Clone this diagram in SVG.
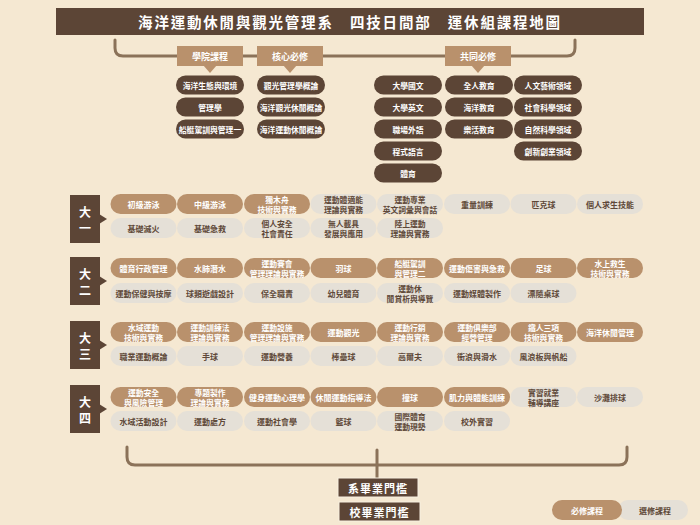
<svg xmlns="http://www.w3.org/2000/svg" width="700" height="525" viewBox="0 0 700 525">
<style>
text{font-family:"Noto Sans CJK TC","Noto Sans CJK SC",sans-serif;font-weight:bold;text-anchor:middle;dominant-baseline:central}
.bg{fill:#f5e8d2}
.dark{fill:#5c4536}
.req{fill:#b9916c}
.ele{fill:#e5e0d7}
.tw{fill:#ffffff;font-size:8px}
.td{fill:#5e4838;font-size:8px}
.tw2{fill:#ffffff;font-size:7.8px}
.td2{fill:#5e4838;font-size:7.8px}
.tu{fill:#ffffff;font-size:7.8px}
.lab{fill:#ffffff;font-size:9px}
.yr{fill:#ffffff;font-size:12px}
.br{fill:none;stroke:#8b7259;stroke-width:3;stroke-linecap:round}
.gate{fill:#5c4536;stroke:#f8efe0;stroke-width:1}
.gt{fill:#ffffff;font-size:11px;letter-spacing:1px}
</style>
<rect class="bg" x="0" y="0" width="700" height="525"/>

<g id="title">
<rect class="dark" x="56" y="8" width="588" height="27"/>
<text x="350" y="21.5" style="fill:#fff;font-size:14.5px;letter-spacing:1.8px">海洋運動休閒與觀光管理系　四技日間部　運休組課程地圖</text>
</g>

<g id="connectors">
<path class="br" d="M115,40 V48 Q115,56 123,56 H567 Q575,56 575,48 V40"/>
<path class="br" d="M127,447 V457 Q127,465 135,465 H619 Q627,465 627,457 V447"/>
<path class="br" d="M377,450 V478" stroke-linecap="butt"/>
</g>

<g id="cat-college">
<rect class="req" x="177" y="46" width="66" height="20"/>
<polygon class="req" points="203,65 217,65 210,73"/>
<text class="lab" x="210" y="56">學院課程</text>
</g>
<g id="cat-core">
<rect class="req" x="257" y="46" width="66" height="20"/>
<polygon class="req" points="283,65 297,65 290,73"/>
<text class="lab" x="290" y="56">核心必修</text>
</g>
<g id="cat-common">
<rect class="req" x="445" y="46" width="66" height="20"/>
<polygon class="req" points="471,65 485,65 478,73"/>
<text class="lab" x="478" y="56">共同必修</text>
</g>

<g id="upper-courses">
<g id="c-college-1"><rect class="dark" x="176" y="75.5" width="68" height="19" rx="9.5"/><text class="tu" x="210" y="85">海洋生態與環境</text></g>
<g id="c-college-2"><rect class="dark" x="176" y="97.5" width="68" height="19" rx="9.5"/><text class="tu" x="210" y="107">管理學</text></g>
<g id="c-college-3"><rect class="dark" x="176" y="119.5" width="68" height="19" rx="9.5"/><text class="tu" x="210" y="129">船艇駕訓與管理一</text></g>
<g id="c-core-1"><rect class="dark" x="257" y="75.5" width="68" height="19" rx="9.5"/><text class="tu" x="291" y="85">觀光管理學概論</text></g>
<g id="c-core-2"><rect class="dark" x="257" y="97.5" width="68" height="19" rx="9.5"/><text class="tu" x="291" y="107">海洋觀光休閒概論</text></g>
<g id="c-core-3"><rect class="dark" x="257" y="119.5" width="68" height="19" rx="9.5"/><text class="tu" x="291" y="129">海洋運動休閒概論</text></g>
<g id="c-common-1"><rect class="dark" x="374" y="75.5" width="68" height="19" rx="9.5"/><text class="tu" x="408" y="85">大學國文</text></g>
<g id="c-common-2"><rect class="dark" x="374" y="97.5" width="68" height="19" rx="9.5"/><text class="tu" x="408" y="107">大學英文</text></g>
<g id="c-common-3"><rect class="dark" x="374" y="119.5" width="68" height="19" rx="9.5"/><text class="tu" x="408" y="129">職場外語</text></g>
<g id="c-common-4"><rect class="dark" x="374" y="141.5" width="68" height="19" rx="9.5"/><text class="tu" x="408" y="151">程式語言</text></g>
<g id="c-common-5"><rect class="dark" x="374" y="163.5" width="68" height="19" rx="9.5"/><text class="tu" x="408" y="173">體育</text></g>
<g id="c-common-6"><rect class="dark" x="445" y="75.5" width="68" height="19" rx="9.5"/><text class="tu" x="479" y="85">全人教育</text></g>
<g id="c-common-7"><rect class="dark" x="445" y="97.5" width="68" height="19" rx="9.5"/><text class="tu" x="479" y="107">海洋教育</text></g>
<g id="c-common-8"><rect class="dark" x="445" y="119.5" width="68" height="19" rx="9.5"/><text class="tu" x="479" y="129">樂活教育</text></g>
<g id="c-common-9"><rect class="dark" x="514" y="75.5" width="68" height="19" rx="9.5"/><text class="tu" x="548" y="85">人文藝術領域</text></g>
<g id="c-common-10"><rect class="dark" x="514" y="97.5" width="68" height="19" rx="9.5"/><text class="tu" x="548" y="107">社會科學領域</text></g>
<g id="c-common-11"><rect class="dark" x="514" y="119.5" width="68" height="19" rx="9.5"/><text class="tu" x="548" y="129">自然科學領域</text></g>
<g id="c-common-12"><rect class="dark" x="514" y="141.5" width="68" height="19" rx="9.5"/><text class="tu" x="548" y="151">創新創業領域</text></g>
</g>

<!-- Year 1 -->
<g id="year1">
<rect class="dark" x="70" y="195" width="30" height="48"/>
<polygon class="dark" points="99,214 107,219 99,224"/>
<text class="yr" x="85" y="211">大</text><text class="yr" x="85" y="227">一</text>
</g>
<g id="y1-courses">
<g><rect class="req" x="110.5" y="194" width="66" height="20" rx="10"/><text class="tw" x="143.5" y="204">初級游泳</text></g>
<g><rect class="req" x="177" y="194" width="66" height="20" rx="10"/><text class="tw" x="210" y="204">中級游泳</text></g>
<g><rect class="req" x="244" y="194" width="66" height="20" rx="10"/><text class="tw2" x="277" y="199">獨木舟</text><text class="tw2" x="277" y="209.5">技術與實務</text></g>
<g><rect class="ele" x="310.5" y="194" width="66" height="20" rx="10"/><text class="td2" x="343.5" y="199">運動體適能</text><text class="td2" x="343.5" y="209.5">理論與實務</text></g>
<g><rect class="ele" x="377" y="194" width="66" height="20" rx="10"/><text class="td2" x="410" y="199">運動專業</text><text class="td2" x="410" y="209.5">英文詞彙與會話</text></g>
<g><rect class="ele" x="444" y="194" width="66" height="20" rx="10"/><text class="td" x="477" y="204">重量訓練</text></g>
<g><rect class="ele" x="510.5" y="194" width="66" height="20" rx="10"/><text class="td" x="543.5" y="204">匹克球</text></g>
<g><rect class="ele" x="577" y="194" width="66" height="20" rx="10"/><text class="td" x="610" y="204">個人求生技能</text></g>
<g><rect class="ele" x="110.5" y="218" width="66" height="20" rx="10"/><text class="td" x="143.5" y="228">基礎滅火</text></g>
<g><rect class="ele" x="177" y="218" width="66" height="20" rx="10"/><text class="td" x="210" y="228">基礎急救</text></g>
<g><rect class="ele" x="244" y="218" width="66" height="20" rx="10"/><text class="td2" x="277" y="223">個人安全</text><text class="td2" x="277" y="233.5">社會責任</text></g>
<g><rect class="ele" x="310.5" y="218" width="66" height="20" rx="10"/><text class="td2" x="343.5" y="223">無人載具</text><text class="td2" x="343.5" y="233.5">發展與應用</text></g>
<g><rect class="ele" x="377" y="218" width="66" height="20" rx="10"/><text class="td2" x="410" y="223">陸上運動</text><text class="td2" x="410" y="233.5">理論與實務</text></g>
</g>

<!-- Year 2 -->
<g id="year2">
<rect class="dark" x="70" y="257" width="30" height="48"/>
<polygon class="dark" points="99,276 107,281 99,286"/>
<text class="yr" x="85" y="273">大</text><text class="yr" x="85" y="289">二</text>
</g>
<g id="y2-courses">
<g><rect class="req" x="110.5" y="258" width="66" height="20" rx="10"/><text class="tw" x="143.5" y="268">體育行政管理</text></g>
<g><rect class="req" x="177" y="258" width="66" height="20" rx="10"/><text class="tw" x="210" y="268">水肺潛水</text></g>
<g><rect class="req" x="244" y="258" width="66" height="20" rx="10"/><text class="tw2" x="277" y="263">運動賽會</text><text class="tw2" x="277" y="273.5">管理理論與實務</text></g>
<g><rect class="req" x="310.5" y="258" width="66" height="20" rx="10"/><text class="tw" x="343.5" y="268">羽球</text></g>
<g><rect class="req" x="377" y="258" width="66" height="20" rx="10"/><text class="tw2" x="410" y="263">船艇駕訓</text><text class="tw2" x="410" y="273.5">與管理二</text></g>
<g><rect class="req" x="444" y="258" width="66" height="20" rx="10"/><text class="tw" x="477" y="268">運動傷害與急救</text></g>
<g><rect class="req" x="510.5" y="258" width="66" height="20" rx="10"/><text class="tw" x="543.5" y="268">足球</text></g>
<g><rect class="req" x="577" y="258" width="66" height="20" rx="10"/><text class="tw2" x="610" y="263">水上救生</text><text class="tw2" x="610" y="273.5">技術與實務</text></g>
<g><rect class="ele" x="110.5" y="283" width="66" height="20" rx="10"/><text class="td" x="143.5" y="293">運動保健與按摩</text></g>
<g><rect class="ele" x="177" y="283" width="66" height="20" rx="10"/><text class="td" x="210" y="293">球類遊戲設計</text></g>
<g><rect class="ele" x="244" y="283" width="66" height="20" rx="10"/><text class="td" x="277" y="293">保全職責</text></g>
<g><rect class="ele" x="310.5" y="283" width="66" height="20" rx="10"/><text class="td" x="343.5" y="293">幼兒體育</text></g>
<g><rect class="ele" x="377" y="283" width="66" height="20" rx="10"/><text class="td2" x="410" y="288">運動休</text><text class="td2" x="410" y="298.5">閒賞析與導覽</text></g>
<g><rect class="ele" x="444" y="283" width="66" height="20" rx="10"/><text class="td" x="477" y="293">運動媒體製作</text></g>
<g><rect class="ele" x="510.5" y="283" width="66" height="20" rx="10"/><text class="td" x="543.5" y="293">漂隨桌球</text></g>
</g>

<!-- Year 3 -->
<g id="year3">
<rect class="dark" x="70" y="321" width="30" height="48"/>
<polygon class="dark" points="99,340 107,345 99,350"/>
<text class="yr" x="85" y="337">大</text><text class="yr" x="85" y="353">三</text>
</g>
<g id="y3-courses">
<g><rect class="req" x="110.5" y="322" width="66" height="20" rx="10"/><text class="tw2" x="143.5" y="327">水域運動</text><text class="tw2" x="143.5" y="337.5">技術與實務</text></g>
<g><rect class="req" x="177" y="322" width="66" height="20" rx="10"/><text class="tw2" x="210" y="327">運動訓練法</text><text class="tw2" x="210" y="337.5">理論與實務</text></g>
<g><rect class="req" x="244" y="322" width="66" height="20" rx="10"/><text class="tw2" x="277" y="327">運動設施</text><text class="tw2" x="277" y="337.5">管理理論與實務</text></g>
<g><rect class="req" x="310.5" y="322" width="66" height="20" rx="10"/><text class="tw" x="343.5" y="332">運動觀光</text></g>
<g><rect class="req" x="377" y="322" width="66" height="20" rx="10"/><text class="tw2" x="410" y="327">運動行銷</text><text class="tw2" x="410" y="337.5">理論與實務</text></g>
<g><rect class="req" x="444" y="322" width="66" height="20" rx="10"/><text class="tw2" x="477" y="327">運動俱樂部</text><text class="tw2" x="477" y="337.5">經營管理</text></g>
<g><rect class="req" x="510.5" y="322" width="66" height="20" rx="10"/><text class="tw2" x="543.5" y="327">鐵人三項</text><text class="tw2" x="543.5" y="337.5">技術與實務</text></g>
<g><rect class="req" x="577" y="322" width="66" height="20" rx="10"/><text class="tw" x="610" y="332">海洋休閒管理</text></g>
<g><rect class="ele" x="110.5" y="346" width="66" height="20" rx="10"/><text class="td" x="143.5" y="356">職業運動概論</text></g>
<g><rect class="ele" x="177" y="346" width="66" height="20" rx="10"/><text class="td" x="210" y="356">手球</text></g>
<g><rect class="ele" x="244" y="346" width="66" height="20" rx="10"/><text class="td" x="277" y="356">運動營養</text></g>
<g><rect class="ele" x="310.5" y="346" width="66" height="20" rx="10"/><text class="td" x="343.5" y="356">棒壘球</text></g>
<g><rect class="ele" x="377" y="346" width="66" height="20" rx="10"/><text class="td" x="410" y="356">高爾夫</text></g>
<g><rect class="ele" x="444" y="346" width="66" height="20" rx="10"/><text class="td" x="477" y="356">衝浪與滑水</text></g>
<g><rect class="ele" x="510.5" y="346" width="66" height="20" rx="10"/><text class="td" x="543.5" y="356">風浪板與帆船</text></g>
</g>

<!-- Year 4 -->
<g id="year4">
<rect class="dark" x="70" y="385" width="30" height="48"/>
<polygon class="dark" points="99,404 107,409 99,414"/>
<text class="yr" x="85" y="401">大</text><text class="yr" x="85" y="417">四</text>
</g>
<g id="y4-courses">
<g><rect class="req" x="110.5" y="387" width="66" height="20" rx="10"/><text class="tw2" x="143.5" y="392">運動安全</text><text class="tw2" x="143.5" y="402.5">與風險管理</text></g>
<g><rect class="req" x="177" y="387" width="66" height="20" rx="10"/><text class="tw2" x="210" y="392">專題製作</text><text class="tw2" x="210" y="402.5">理論與實務</text></g>
<g><rect class="req" x="244" y="387" width="66" height="20" rx="10"/><text class="tw" x="277" y="397">健身運動心理學</text></g>
<g><rect class="req" x="310.5" y="387" width="66" height="20" rx="10"/><text class="tw" x="343.5" y="397">休閒運動指導法</text></g>
<g><rect class="req" x="377" y="387" width="66" height="20" rx="10"/><text class="tw" x="410" y="397">撞球</text></g>
<g><rect class="req" x="444" y="387" width="66" height="20" rx="10"/><text class="tw" x="477" y="397">肌力與體能訓練</text></g>
<g><rect class="ele" x="510.5" y="387" width="66" height="20" rx="10"/><text class="td2" x="543.5" y="392">實習就業</text><text class="td2" x="543.5" y="402.5">輔導講座</text></g>
<g><rect class="ele" x="577" y="387" width="66" height="20" rx="10"/><text class="td" x="610" y="397">沙灘排球</text></g>
<g><rect class="ele" x="110.5" y="411" width="66" height="20" rx="10"/><text class="td" x="143.5" y="421">水域活動設計</text></g>
<g><rect class="ele" x="177" y="411" width="66" height="20" rx="10"/><text class="td" x="210" y="421">運動處方</text></g>
<g><rect class="ele" x="244" y="411" width="66" height="20" rx="10"/><text class="td" x="277" y="421">運動社會學</text></g>
<g><rect class="ele" x="310.5" y="411" width="66" height="20" rx="10"/><text class="td" x="343.5" y="421">籃球</text></g>
<g><rect class="ele" x="377" y="411" width="66" height="20" rx="10"/><text class="td2" x="410" y="416">國際體育</text><text class="td2" x="410" y="426.5">運動現勢</text></g>
<g><rect class="ele" x="444" y="411" width="66" height="20" rx="10"/><text class="td" x="477" y="421">校外實習</text></g>
</g>

<g id="gate-dept">
<rect class="gate" x="338" y="478" width="80" height="19"/>
<text class="gt" x="378" y="487.5">系畢業門檻</text>
</g>
<g id="gate-school">
<rect class="gate" x="339" y="502" width="81" height="19"/>
<text class="gt" x="379.5" y="511.5">校畢業門檻</text>
</g>

<g id="legend">
<rect class="ele" x="618" y="500" width="70" height="20" rx="10"/>
<text class="td" x="655" y="510">選修課程</text>
<rect class="req" x="552" y="500" width="70" height="20" rx="10"/>
<text class="tw" x="587" y="510">必修課程</text>
</g>
</svg>
